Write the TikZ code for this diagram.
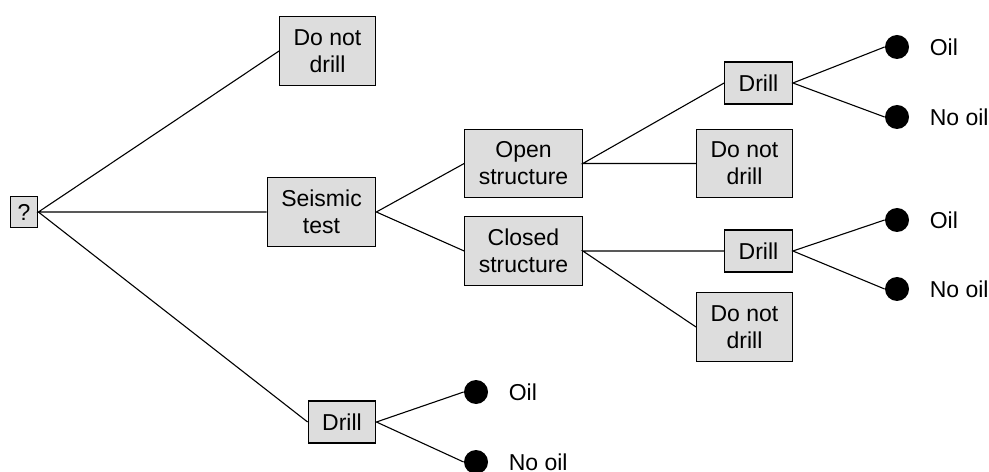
\documentclass[tikz,border=0pt]{standalone}
\usepackage{fontspec}
\setmainfont{Liberation Sans}
\usetikzlibrary{positioning}
\definecolor{boxgray}{HTML}{DDDDDD}
\tikzset{
  choicebox/.style={draw, fill=boxgray, line width=0.6pt, align=center,
    inner xsep=7pt, inner ysep=6.3pt, font=\fontsize{11.5}{13.5}\selectfont},
  chancedot/.style={circle, fill=black, inner sep=0pt, minimum size=12pt},
  chancelabel/.style={inner sep=0pt, font=\fontsize{11.5}{13.5}\selectfont},
  branch/.style={line width=0.55pt}
}
\begin{document}
\begin{tikzpicture}[x=5pt,y=5pt]
\useasboundingbox (0,0) rectangle (98.9,47.1);
\node[choicebox, inner sep=3.7pt] (q) at (2.4,25.9) {?};
\node[choicebox] (nodrillA) at (32.75,42.0) {Do not\\drill};
\node[choicebox] (seismic) at (32.15,25.9) {Seismic\\test};
\node[choicebox] (drillC) at (34.2,4.9) {Drill};
\node[choicebox] (open) at (52.35,30.75) {Open\\structure};
\node[choicebox] (closed) at (52.35,22.0) {Closed\\structure};
\node[choicebox] (drillA) at (75.85,38.8) {Drill};
\node[choicebox] (nodrillB) at (74.45,30.75) {Do not\\drill};
\node[choicebox] (drillB) at (75.85,22.0) {Drill};
\node[choicebox] (nodrillC) at (74.45,14.4) {Do not\\drill};
\node[chancedot] (oilA) at (89.7,42.4) {};
\node[chancedot] (nooilA) at (89.7,35.4) {};
\node[chancedot] (oilB) at (89.7,25.1) {};
\node[chancedot] (nooilB) at (89.7,18.2) {};
\node[chancedot] (oilC) at (47.6,7.9) {};
\node[chancedot] (nooilC) at (47.6,0.9) {};
\node[chancelabel, right=10pt of oilA] (oilAtxt) {Oil};
\node[chancelabel, right=10pt of nooilA] (nooilAtxt) {No oil};
\node[chancelabel, right=10pt of oilB] (oilBtxt) {Oil};
\node[chancelabel, right=10pt of nooilB] (nooilBtxt) {No oil};
\node[chancelabel, right=10pt of oilC] (oilCtxt) {Oil};
\node[chancelabel, right=10pt of nooilC] (nooilCtxt) {No oil};
\draw[branch] (nodrillA.west) -- (q.east) -- (seismic.west);
\draw[branch] (q.east) -- (drillC.west);
\draw[branch] (open.west) -- (seismic.east) -- (closed.west);
\draw[branch] (drillA.west) -- (open.east) -- (nodrillB.west);
\draw[branch] (drillB.west) -- (closed.east) -- (nodrillC.west);
\draw[branch] (oilA.west) -- (drillA.east) -- (nooilA.west);
\draw[branch] (oilB.west) -- (drillB.east) -- (nooilB.west);
\draw[branch] (oilC.west) -- (drillC.east) -- (nooilC.west);
\end{tikzpicture}
\end{document}
